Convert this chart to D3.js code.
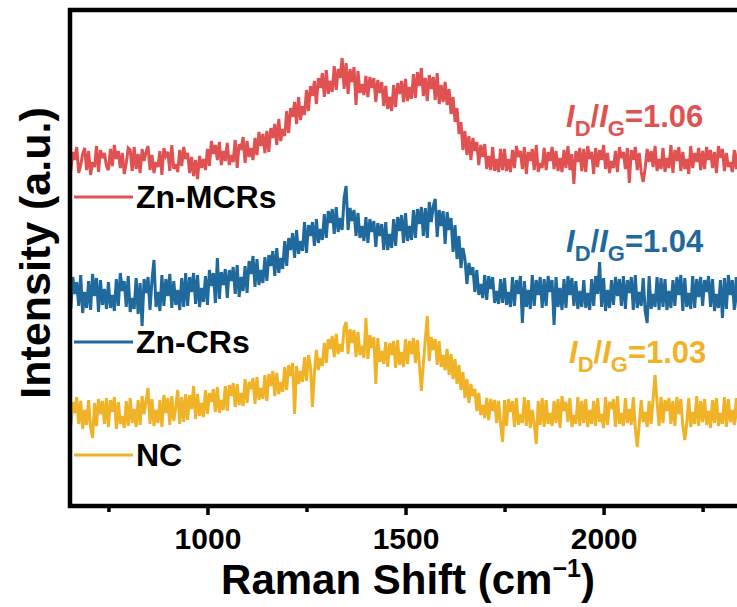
<!DOCTYPE html>
<html lang="en">
<head>
  <meta charset="UTF-8">
  <title>Raman spectra</title>
  <script src="https://d3js.org/d3.v7.min.js"></script>
  <style>
    body { margin: 0; background: #fff; }
    text { font-family: "Liberation Sans", Arial, sans-serif; font-weight: bold; }
  </style>
</head>
<body>
  <div id="chart"></div>
  <script>
    // Raman shift grid (cm-1), one reading every 5 cm-1
    const shift = d3.range(650, 2345, 5);

    // stacked intensities (a.u., offsets already included), 20 readings per row
    const znMCRs = [
      357, 335, 354, 346, 359, 333, 341, 352, 358, 336, 355, 331, 344, 339, 360, 334, 356, 348, 353, 340,
      336, 357, 340, 361, 347, 355, 338, 353, 332, 343, 358, 356, 335, 359, 337, 352, 333, 357, 345, 354,
      360, 336, 351, 333, 344, 339, 355, 331, 358, 350, 354, 335, 361, 337, 342, 334, 356, 340, 359, 347,
      353, 333, 349, 330, 346, 327, 350, 338, 347, 336, 357, 340, 365, 352, 361, 346, 364, 341, 355, 345,
      363, 341, 351, 344, 366, 338, 362, 356, 369, 343, 365, 349, 358, 346, 368, 351, 374, 360, 372, 353,
      375, 354, 378, 368, 382, 361, 387, 365, 377, 370, 395, 373, 398, 389, 404, 382, 409, 386, 400, 391,
      416, 395, 420, 410, 425, 402, 428, 418, 433, 409, 436, 412, 425, 414, 440, 416, 437, 428, 448, 417,
      443, 412, 437, 424, 439, 401, 435, 413, 422, 411, 430, 409, 429, 418, 428, 404, 426, 413, 424, 400,
      420, 397, 409, 395, 421, 399, 423, 412, 425, 404, 427, 405, 419, 407, 432, 408, 434, 420, 438, 410,
      428, 405, 431, 417, 429, 406, 433, 402, 421, 404, 424, 401, 417, 392, 409, 384, 398, 372, 384, 356,
      375, 351, 370, 346, 368, 355, 364, 341, 361, 349, 362, 337, 350, 336, 359, 335, 347, 334, 357, 336,
      357, 335, 347, 334, 356, 338, 360, 349, 355, 337, 359, 332, 354, 345, 357, 336, 361, 334, 343, 338,
      358, 336, 354, 345, 359, 337, 355, 335, 348, 334, 356, 338, 360, 336, 352, 322, 355, 344, 358, 335,
      357, 334, 360, 347, 354, 332, 358, 339, 356, 346, 361, 337, 353, 333, 345, 338, 355, 334, 359, 348,
      354, 337, 358, 323, 356, 346, 359, 336, 353, 334, 324, 338, 357, 344, 355, 339, 360, 335, 347, 337,
      358, 334, 348, 338, 361, 333, 356, 345, 359, 335, 354, 337, 347, 332, 360, 338, 353, 344, 358, 336,
      355, 337, 359, 346, 356, 338, 354, 333, 360, 348, 357, 335, 353, 339, 344, 334, 356, 337, 355
    ];
    const znCRs = [
      226, 197, 229, 212, 224, 200, 231, 193, 214, 198, 225, 196, 232, 210, 228, 194, 226, 201, 217, 197,
      224, 198, 211, 195, 227, 200, 233, 215, 225, 199, 230, 194, 208, 197, 228, 192, 223, 180, 227, 213,
      229, 196, 226, 246, 199, 214, 195, 231, 200, 227, 210, 232, 198, 225, 201, 216, 196, 228, 199, 233,
      200, 229, 214, 233, 202, 231, 199, 218, 204, 230, 201, 236, 220, 233, 203, 248, 207, 234, 221, 237,
      208, 236, 225, 239, 212, 241, 209, 229, 215, 240, 213, 245, 232, 250, 219, 247, 221, 236, 223, 249,
      225, 251, 240, 255, 230, 258, 233, 248, 237, 265, 240, 268, 256, 273, 248, 276, 252, 265, 255, 284,
      253, 281, 270, 284, 260, 287, 263, 277, 266, 292, 268, 295, 283, 297, 272, 299, 274, 288, 276, 308,
      320, 276, 298, 285, 296, 270, 293, 268, 280, 265, 289, 263, 287, 274, 285, 259, 283, 270, 282, 256,
      284, 256, 272, 258, 287, 260, 289, 275, 291, 263, 293, 265, 280, 266, 296, 268, 297, 282, 299, 270,
      298, 268, 304, 284, 300, 307, 269, 296, 280, 295, 262, 294, 276, 288, 254, 281, 247, 270, 238, 258,
      247, 222, 243, 231, 239, 214, 236, 211, 222, 208, 231, 206, 230, 217, 229, 203, 215, 202, 227, 203,
      228, 201, 214, 199, 229, 200, 226, 212, 230, 183, 225, 199, 216, 197, 231, 200, 226, 211, 229, 198,
      227, 200, 230, 214, 226, 181, 229, 199, 218, 196, 227, 198, 230, 211, 228, 200, 225, 197, 215, 199,
      226, 198, 213, 196, 227, 200, 230, 212, 244, 199, 228, 195, 216, 198, 226, 201, 229, 210, 227, 200,
      230, 197, 226, 213, 229, 196, 231, 198, 214, 200, 228, 195, 183, 230, 197, 212, 199, 229, 196, 228,
      199, 227, 196, 215, 198, 226, 200, 229, 211, 231, 195, 228, 199, 213, 197, 230, 198, 227, 209, 229,
      200, 226, 214, 230, 199, 227, 195, 212, 198, 226, 188, 228, 197, 231, 211, 226, 196, 229, 198
    ];
    const nc = [
      107, 80, 104, 93, 109, 82, 105, 77, 96, 81, 106, 79, 68, 103, 80, 107, 92, 105, 82, 108,
      79, 106, 94, 109, 77, 104, 82, 90, 78, 105, 80, 108, 83, 97, 79, 106, 81, 110, 92, 105,
      118, 82, 107, 80, 96, 83, 106, 79, 111, 93, 108, 81, 110, 85, 99, 116, 82, 109, 84, 112,
      86, 111, 97, 120, 87, 112, 90, 103, 89, 116, 92, 113, 104, 117, 94, 119, 93, 106, 96, 120,
      95, 121, 110, 123, 99, 122, 101, 113, 100, 127, 103, 124, 117, 128, 102, 129, 106, 118, 107, 131,
      105, 132, 120, 135, 110, 133, 112, 124, 114, 139, 116, 141, 130, 143, 92, 140, 122, 135, 124, 149,
      125, 151, 140, 99, 133, 156, 136, 148, 140, 163, 143, 167, 157, 170, 149, 172, 152, 162, 154, 178,
      184, 152, 177, 163, 176, 149, 174, 151, 160, 148, 188, 147, 171, 158, 169, 122, 168, 144, 155, 142,
      164, 139, 163, 151, 165, 138, 166, 141, 154, 139, 167, 142, 165, 152, 168, 143, 166, 141, 115, 142,
      167, 190, 145, 169, 156, 167, 141, 165, 139, 151, 136, 157, 131, 152, 127, 147, 122, 141, 116, 134,
      108, 127, 103, 122, 110, 117, 95, 113, 91, 101, 88, 108, 86, 107, 95, 106, 83, 105, 82, 64,
      106, 80, 107, 94, 105, 79, 108, 81, 92, 83, 109, 80, 106, 78, 96, 82, 62, 105, 81, 108,
      79, 106, 82, 93, 80, 105, 83, 107, 78, 110, 95, 104, 84, 108, 79, 91, 82, 109, 80, 105,
      83, 107, 79, 96, 82, 105, 80, 108, 84, 92, 78, 109, 81, 104, 97, 107, 79, 110, 82, 93,
      80, 108, 83, 97, 81, 109, 78, 59, 82, 106, 84, 94, 79, 105, 82, 107, 131, 104, 80, 109,
      83, 106, 95, 108, 82, 105, 80, 109, 92, 107, 81, 66, 83, 108, 79, 94, 82, 110, 80, 105,
      84, 107, 81, 95, 78, 106, 83, 108, 80, 93, 82, 109, 79, 107, 84, 96, 81, 108, 83
    ];

    const sampleNames = ["Zn-MCRs", "Zn-CRs", "NC"];
    const ratios = ["1.06", "1.04", "1.03"];
    const colors = ["#e05252", "#1f699d", "#f0b328"];
    const majorTicks = [1000, 1500, 2000];
    const minorTicks = [750, 1250, 1750, 2250];

    const series = [znMCRs, znCRs, nc];

    // plot box, right border runs past the window edge like the original
    const boxLeft = 70, boxRight = 745, boxTop = 10, boxBottom = 506;

    const svg = d3.select("#chart")
      .append("svg")
      .attr("width", 737)
      .attr("height", 607);

    const x = d3.scaleLinear().domain([653, 2357]).range([boxLeft, boxRight]);
    const y = d3.scaleLinear().domain([0, 496]).range([boxBottom, boxTop]);

    svg.append("clipPath").attr("id", "clip")
      .append("rect")
      .attr("x", boxLeft).attr("y", boxTop)
      .attr("width", boxRight - boxLeft).attr("height", boxBottom - boxTop);

    const line = d3.line()
      .defined((d, i) => shift[i] !== undefined)
      .x((d, i) => x(shift[i]))
      .y(d => y(d));

    // dense noisy traces, thick enough to read as a band
    svg.append("g")
      .attr("clip-path", "url(#clip)")
      .selectAll("path")
      .data(series)
      .join("path")
      .attr("fill", "none")
      .attr("stroke", (d, i) => colors[i])
      .attr("stroke-width", 3)
      .attr("stroke-linejoin", "miter")
      .attr("stroke-miterlimit", 3)
      .attr("d", line);

    // frame
    svg.append("rect")
      .attr("x", boxLeft).attr("y", boxTop)
      .attr("width", boxRight - boxLeft).attr("height", boxBottom - boxTop)
      .attr("fill", "none")
      .attr("stroke", "#000")
      .attr("stroke-width", 4.5);

    // bottom axis, major + minor ticks
    const xAxis = svg.append("g")
      .attr("transform", `translate(0,${boxBottom + 2})`)
      .call(d3.axisBottom(x).tickValues(majorTicks).tickSize(7).tickFormat(d3.format("d")));
    xAxis.select(".domain").remove();
    xAxis.selectAll("line").attr("stroke-width", 3.5);
    xAxis.selectAll("text")
      .attr("y", 41)
      .attr("dy", null)
      .attr("font-size", 30)
      .attr("font-family", "'Liberation Sans', Arial, sans-serif")
      .attr("fill", "#000");

    const xMinor = svg.append("g")
      .attr("transform", `translate(0,${boxBottom + 2})`)
      .call(d3.axisBottom(x).tickValues(minorTicks).tickSize(4).tickFormat(""));
    xMinor.select(".domain").remove();
    xMinor.selectAll("line").attr("stroke-width", 3.5);

    // axis titles
    const xTitle = svg.append("text")
      .attr("x", 408)
      .attr("y", 594)
      .attr("text-anchor", "middle")
      .attr("font-size", 42);
    xTitle.append("tspan").text("Raman Shift (cm");
    xTitle.append("tspan").attr("font-size", 25).attr("dy", -17).text("\u22121");
    xTitle.append("tspan").attr("dy", 17).text(")");

    svg.append("text")
      .attr("transform", "translate(50,253) rotate(-90)")
      .attr("text-anchor", "middle")
      .attr("font-size", 43)
      .text("Intensity (a.u.)");

    // legend entries sit under each trace
    const legendY = [197, 342, 455];
    sampleNames.forEach((name, i) => {
      svg.append("line")
        .attr("x1", 74).attr("x2", 133)
        .attr("y1", legendY[i]).attr("y2", legendY[i])
        .attr("stroke", colors[i])
        .attr("stroke-width", 3);
      svg.append("text")
        .attr("x", 136)
        .attr("y", legendY[i] + 11)
        .attr("font-size", 32)
        .attr("fill", "#000")
        .text(name);
    });

    // ID/IG labels
    const ratioPos = [[566, 127], [566, 252], [569, 363]];
    ratios.forEach((r, i) => {
      const t = svg.append("text")
        .attr("x", ratioPos[i][0])
        .attr("y", ratioPos[i][1])
        .attr("font-size", 31)
        .attr("fill", colors[i]);
      t.append("tspan").attr("font-style", "italic").text("I");
      t.append("tspan").attr("font-size", 22).attr("dy", 9).text("D");
      t.append("tspan").attr("dy", -9).text("/");
      t.append("tspan").attr("font-style", "italic").text("I");
      t.append("tspan").attr("font-size", 22).attr("dy", 9).text("G");
      t.append("tspan").attr("dy", -9).text("=" + r);
    });
  </script>
</body>
</html>
